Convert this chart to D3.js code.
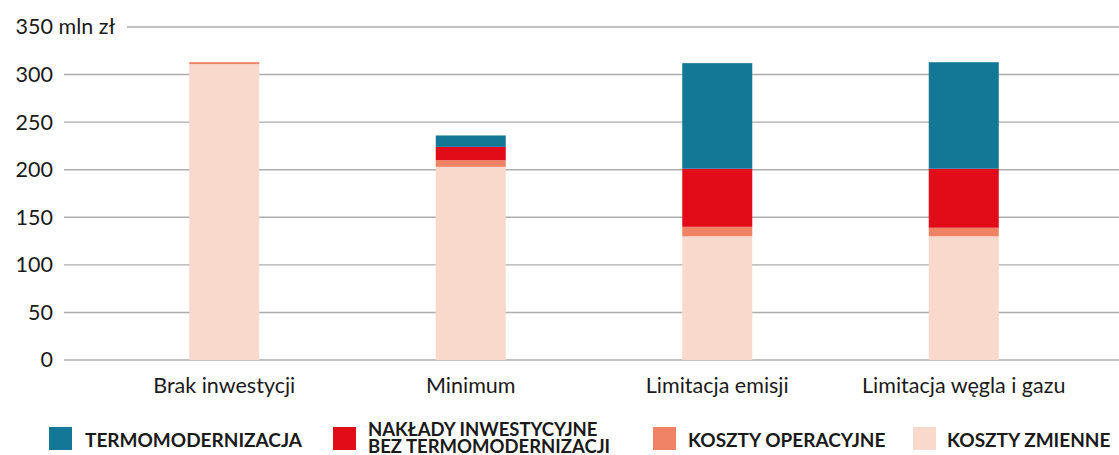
<!DOCTYPE html>
<html>
<head>
<meta charset="utf-8">
<script src="https://cdn.jsdelivr.net/npm/d3@7"></script>
<style>
  body { margin: 0; background: #fff; }
  svg text { font-family: Lato, sans-serif; fill: #1a1a1a; }
</style>
</head>
<body>
<div id="chart"></div>
<script>
// data
const scenarios = ["Brak inwestycji", "Minimum", "Limitacja emisji", "Limitacja węgla i gazu"];
const kosztyZmienne = [311, 203, 130, 130];
const kosztyOperacyjne = [2, 7, 10, 9];
const naklady = [0, 14, 61, 62];
const termo = [0, 12, 111, 112];
const yTicks = [0, 50, 100, 150, 200, 250, 300, 350];
const unit = "mln zł";

const series = [
    { key: "zm", name: ["KOSZTY ZMIENNE"], values: kosztyZmienne, color: "#f9d9cb" },
    { key: "op", name: ["KOSZTY OPERACYJNE"], values: kosztyOperacyjne, color: "#f08366" },
    { key: "nak", name: ["NAKŁADY INWESTYCYJNE", "BEZ TERMOMODERNIZACJI"], values: naklady, color: "#e20b18" },
    { key: "term", name: ["TERMOMODERNIZACJA"], values: termo, color: "#137896" }
];

const width = 1119, height = 455;

const svg = d3.select("#chart").append("svg")
    .attr("width", width)
    .attr("height", height);

const table = scenarios.map((s, i) => {
    const row = { scenario: s };
    series.forEach(se => row[se.key] = se.values[i]);
    return row;
});
const stacked = d3.stack().keys(series.map(s => s.key))(table);

const x = d3.scaleBand()
    .domain(scenarios)
    .range([101, 1087])
    .paddingInner(0.716)
    .paddingOuter(0.358);

const y = d3.scaleLinear()
    .domain([0, 350])
    .range([360, 27]);

// gridlines
svg.append("g").selectAll("line")
    .data(yTicks)
    .enter()
    .append("line")
    .attr("x1", d => d == 350 ? 127 : 64)
    .attr("x2", width)
    .attr("y1", d => y(d))
    .attr("y2", d => y(d))
    .attr("stroke", "#adadad")
    .attr("stroke-width", 1.4);

// y axis labels
const gY = svg.append("g")
    .attr("transform", "translate(53,0)")
    .call(d3.axisLeft(y).tickValues(yTicks).tickSize(0).tickPadding(0));
gY.select(".domain").remove();
gY.selectAll("text")
    .style("font-size", "21.5px")
    .style("font-family", "Lato, sans-serif")
    .attr("fill", "#1a1a1a");
const topLabel = gY.selectAll(".tick").filter(d => d == 350).select("text");
const numW = topLabel.node().getComputedTextLength();
topLabel.attr("text-anchor", "start")
    .attr("x", -numW)
    .text("350 " + unit);

// bars
svg.append("g").selectAll("g")
    .data(stacked)
    .enter()
    .append("g")
    .attr("fill", (d, i) => series[i].color)
    .selectAll("rect")
    .data(d => d)
    .enter()
    .append("rect")
    .attr("x", d => x(d.data.scenario))
    .attr("width", x.bandwidth())
    .attr("y", d => y(d[1]))
    .attr("height", d => y(d[0]) - y(d[1]));

// x axis labels
const gX = svg.append("g")
    .attr("transform", "translate(0,360)")
    .call(d3.axisBottom(x).tickSize(0).tickPadding(18));
gX.select(".domain").remove();
gX.selectAll("text")
    .style("font-size", "21.5px")
    .style("font-family", "Lato, sans-serif")
    .attr("fill", "#1a1a1a");

// legend
const legendOrder = ["term", "nak", "op", "zm"];
const legendX = [49, 333, 653, 913];
const textOff = [36, 35, 35, 34];
const legend = svg.append("g");
legendOrder.forEach((k, i) => {
    const s = series.find(se => se.key == k);
    const g = legend.append("g").attr("transform", "translate(" + legendX[i] + ",427)");
    g.append("rect").attr("width", 23).attr("height", 23).attr("fill", s.color);
    const t = g.append("text")
        .style("font-weight", "bold");
    if (s.name.length == 1) {
        t.attr("x", textOff[i]).attr("y", 20).style("font-size", "19px").text(s.name[0]);
    } else {
        t.style("font-size", "18.5px");
        s.name.forEach((n, j) => t.append("tspan").attr("x", textOff[i]).attr("y", 9 + j * 17).text(n));
    }
});
</script>
</body>
</html>
